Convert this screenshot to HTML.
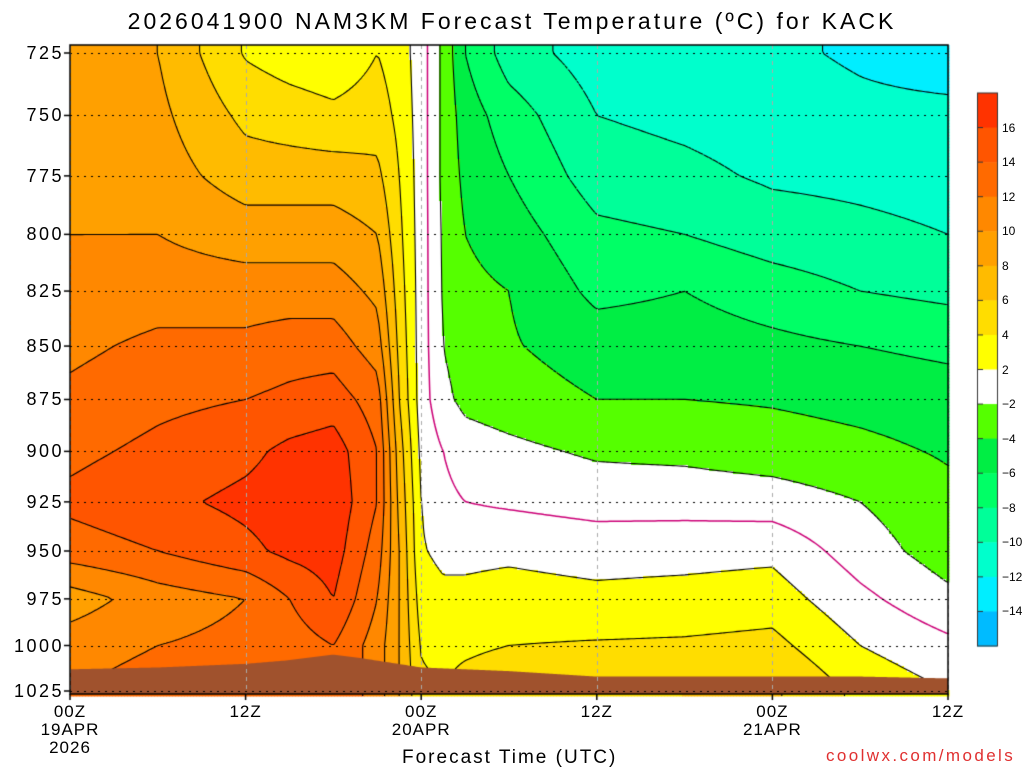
<!DOCTYPE html>
<html><head><meta charset="utf-8">
<style>
body{margin:0;background:#fff;width:1024px;height:768px;overflow:hidden;position:relative;font-family:"Liberation Sans",sans-serif;}
.t{position:absolute;white-space:nowrap;color:#000;}
.yl{position:absolute;right:calc(1024px - 64px);font-size:18px;line-height:18px;letter-spacing:2.5px;}
.xl{position:absolute;font-size:17px;line-height:18px;text-align:center;width:90px;letter-spacing:1px;}
.cb{position:absolute;left:1002px;font-size:12px;line-height:12px;}
</style></head><body>
<div class="t" style="left:0;width:1024px;text-align:center;top:8px;font-size:23px;letter-spacing:3px;">2026041900 NAM3KM Forecast Temperature (ºC) for KACK</div>
<canvas id="c" width="1024" height="768" style="position:absolute;left:0;top:0"></canvas>
<div id="labels"></div>
<div class="t" style="left:402px;top:747px;font-size:19px;letter-spacing:2px;">Forecast Time (UTC)</div>
<div class="t" style="left:826px;top:746px;font-size:17px;letter-spacing:2.4px;color:#e03030;">coolwx.com/models</div>
<script>
const hours=[0,6,12,15,18,21,22.5,24,25.5,27,30,36,42,48,54,60];
const plevels=[725,750,775,800,825,850,875,900,925,950,975,1000,1025];
const temps=[
[9,9,9,10,10.5,11.5,12.5,13.5,14.5,13,9,11,12],
[8,8.5,9,10,11,12.5,13.5,14.5,15.5,14,11,12,13],
[3.8,5.5,7,9,11,12.5,14,15.5,16.5,15.5,12,12.5,14],
[3,5,7,9,11,13,14.5,16.5,17,16.5,14,13,14],
[2.5,4.5,7,9,11,13,15,17,17.5,17,16,14,14],
[4,5,6.5,8,9.5,11,13,14,14,13,12,11,11],
[3,3.5,4,4.5,5,5.5,6,7,7.5,8,8,8,8],
[1,1,1,1,1,1,1,1.5,2,2.2,3,3.8,4.5],
[-2.5,-2.5,-2.5,-2.3,-2.2,-2,-1.5,0,0.5,1.5,2.5,3.3,4],
[-6,-5,-4.5,-4,-3.5,-3,-2.5,-1,0,1.5,2.5,3.5,5],
[-9,-7,-6,-5,-4,-3.8,-3,-1.5,-0.3,1.6,2.8,4,6],
[-11,-10,-9,-7.5,-6.5,-5,-4,-2.3,-0.8,1.2,2.5,4.2,6],
[-11.5,-10.5,-9.5,-8,-6,-5,-4,-2.5,-0.8,1.3,2.7,4.3,6],
[-11.6,-11,-10.3,-9,-7,-5.5,-4.2,-3,-1,1.5,3,4.6,6.3],
[-12.3,-11.5,-10.5,-9.5,-8,-6,-4.6,-3.5,-2,-1,0.5,2,3.5],
[-13,-11.5,-10.8,-10,-8.5,-6.5,-5,-4.2,-3.5,-3,-1.5,0.5,2]];
const sfcHours=[0,6,12,15,18,20,24,30,36,42,48,54,60];
const sfcPres=[1013,1012,1010,1008,1005,1007,1012,1014,1017,1017,1017,1017,1018];
const yTicks=[725,750,775,800,825,850,875,900,925,950,975,1000,1025];
const xTickHours=[0,12,24,36,48,60];
const xTickLabels=[["00Z","19APR","2026"],["12Z"],["00Z","20APR"],["12Z"],["00Z","21APR"],["12Z"]];
const cbLevels=[16,14,12,10,8,6,4,2,-2,-4,-6,-8,-10,-12,-14];
const bandColors=["#ff3300","#ff5500","#ff6a00","#ff8800","#ffa000","#ffbb00","#ffdd00","#ffff00","#ffffff","#55ff00","#00ee44","#00ff66","#00ff99","#00ffcc","#00eeff","#00bbff"];

const X0=70,X1=948,Y0=45,Y1=694,LP0=Math.log(725),LP1=Math.log(1025);
const xOf=h=>X0+h*(X1-X0)/60;
const yOf=p=>53+(Math.log(p)-LP0)/(LP1-LP0)*638;
const pOf=y=>Math.exp(LP0+(y-53)/638*(LP1-LP0));
const hOf=x=>(x-X0)*60/(X1-X0);
function interp(xs,ys,v){if(v<=xs[0])return ys[0];for(let i=1;i<xs.length;i++){if(v<=xs[i]){const f=(v-xs[i-1])/(xs[i]-xs[i-1]);return ys[i-1]+f*(ys[i]-ys[i-1]);}}return ys[ys.length-1];}
const lpl=plevels.map(Math.log);
function T(h,p){const col=temps.map(r=>interp(lpl,r,Math.log(p)));return interp(hours,col,h);}
function color(t){
  if(t>=16)return bandColors[0];
  if(t>=2){return bandColors[Math.min(7,Math.floor((16-t)/2)+1)];}
  if(t>-2)return bandColors[8];
  if(t<-14)return bandColors[15];
  return bandColors[9+Math.floor((-2-t)/2)];
}
const c=document.getElementById('c'),g=c.getContext('2d');
const S=3,nx=Math.ceil((X1-X0)/S),ny=Math.ceil((Y1-Y0)/S);
const F=[];
for(let j=0;j<=ny;j++){F[j]=[];for(let i=0;i<=nx;i++){F[j][i]=T(hOf(X0+i*S),pOf(Y0+j*S));}}
for(let j=0;j<ny;j++)for(let i=0;i<nx;i++){const v=(F[j][i]+F[j][i+1]+F[j+1][i]+F[j+1][i+1])/4;g.fillStyle=color(v);g.fillRect(X0+i*S,Y0+j*S,S+0.5,S+0.5);}
for(let L=-14;L<=16;L+=2){
  g.beginPath();
  for(let j=0;j<ny;j++)for(let i=0;i<nx;i++){
    const a=F[j][i],b=F[j][i+1],cc=F[j+1][i+1],d=F[j+1][i];
    const pts=[];const x=X0+i*S,y=Y0+j*S;
    if((a-L)*(b-L)<0)pts.push([x+S*(L-a)/(b-a),y]);
    if((b-L)*(cc-L)<0)pts.push([x+S,y+S*(L-b)/(cc-b)]);
    if((d-L)*(cc-L)<0)pts.push([x+S*(L-d)/(cc-d),y+S]);
    if((a-L)*(d-L)<0)pts.push([x,y+S*(L-a)/(d-a)]);
    for(let k=0;k+1<pts.length;k+=2){g.moveTo(pts[k][0],pts[k][1]);g.lineTo(pts[k+1][0],pts[k+1][1]);}
  }
  g.lineWidth=L===0?1.5:1.1;g.strokeStyle=L===0?"#cc0077":"#000";g.setLineDash(L<0?[3,2]:[]);g.stroke();
}
g.setLineDash([]);
g.fillStyle="#a0522d";g.beginPath();g.moveTo(X0,Y1);
for(let x=X0;x<=X1;x+=2){g.lineTo(x,yOf(interp(sfcHours,sfcPres,hOf(x))));}
g.lineTo(X1,Y1);g.closePath();g.fill();
g.strokeStyle="#000";g.lineWidth=1;g.setLineDash([2,5]);
yTicks.forEach(p=>{const y=Math.round(yOf(p))+0.5;g.beginPath();g.moveTo(X0,y);g.lineTo(X1,y);g.stroke();});
g.strokeStyle="#aaa";g.setLineDash([4,4]);
xTickHours.forEach(h=>{const x=Math.round(xOf(h))+0.5;g.beginPath();g.moveTo(x,Y0);g.lineTo(x,Y1);g.stroke();});
g.setLineDash([]);g.strokeStyle="#000";g.lineWidth=1.5;
g.strokeRect(X0,Y0,X1-X0,Y1-Y0);
yTicks.forEach(p=>{const y=yOf(p);g.beginPath();g.moveTo(X0-6,y);g.lineTo(X0,y);g.stroke();});
xTickHours.forEach(h=>{const x=xOf(h);g.beginPath();g.moveTo(x,Y1);g.lineTo(x,Y1+6);g.stroke();});
const CB0=93,CB1=646,bh=(CB1-CB0)/16;
bandColors.forEach((col,k)=>{g.fillStyle=col;g.fillRect(977,CB0+k*bh,20,bh+0.5);});
g.lineWidth=1;g.strokeStyle="#333";g.strokeRect(977.5,CB0,20,CB1-CB0);
const lab=document.getElementById('labels');
yTicks.forEach(p=>{const d=document.createElement('div');d.className='yl';


d.style.top=(yOf(p)-9)+'px';d.textContent=p;lab.appendChild(d);});
xTickHours.forEach((h,k)=>{const d=document.createElement('div');d.className='xl';


d.style.left=(xOf(h)-45)+'px';d.style.top='703px';d.innerHTML=xTickLabels[k].join('<br>');lab.appendChild(d);});
cbLevels.forEach((v,k)=>{const y=CB0+(k+1)*bh;
g.beginPath();g.moveTo(977,y);g.lineTo(983,y);g.stroke();
const d=document.createElement('div');d.className='cb';


d.style.top=(y-6)+'px';d.textContent=v<0?'\u2212'+(-v):v;lab.appendChild(d);});
</script>
</body></html>
